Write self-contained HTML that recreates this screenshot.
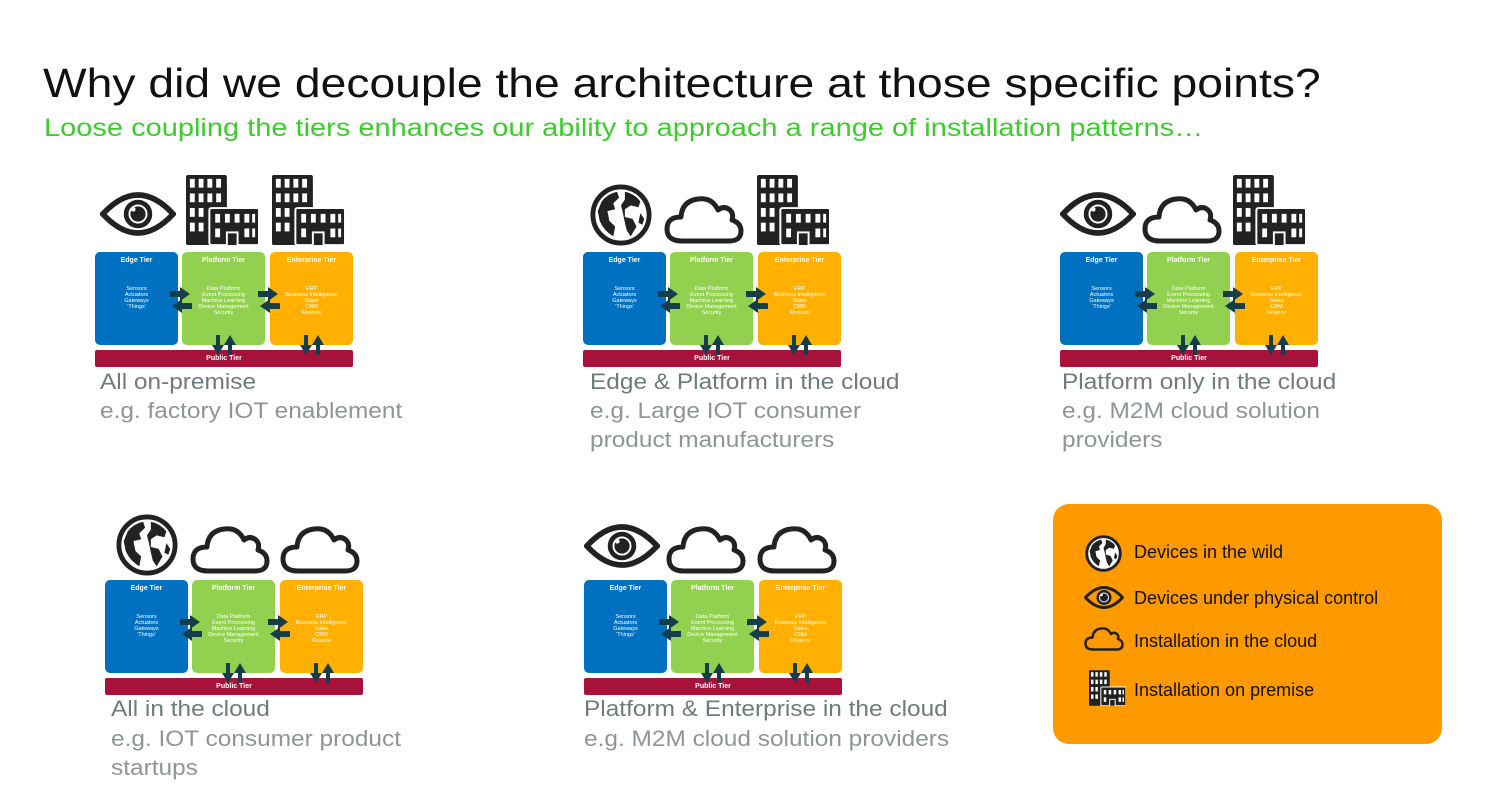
<!DOCTYPE html>
<html><head><meta charset="utf-8"><style>
body{margin:0;width:1509px;height:801px;background:#fff;position:relative;overflow:hidden;font-family:"Liberation Sans",sans-serif}
.t{position:absolute;white-space:nowrap;transform-origin:0 0}
.d{position:absolute;width:258px;height:116px}
.b{position:absolute;top:0;width:83px;height:93px;border-radius:5px;color:#fff;text-align:center}
.b h{display:block;font-weight:bold;font-size:7px;margin-top:5px}
.b p{margin:0;position:absolute;left:0;right:0;top:34px;font-size:5.5px;line-height:6px}
.e{left:0;background:#0070c0}.p{left:87px;background:#92d050}.n{left:175px;background:#ffb000}
.pub{position:absolute;left:0;top:98px;width:258px;height:17px;background:#a8123a;border-radius:2px;color:#fff;font-weight:bold;font-size:7px;text-align:center;line-height:17px}
.ar{position:absolute}
.cap1{font-size:22px;color:#6e7b7b;transform:scaleX(1.11)}
.cap2{font-size:22px;color:#8c9696;line-height:29px;transform:scaleX(1.11)}
.ic{position:absolute}
</style></head><body>
<svg width="0" height="0" style="position:absolute">
<defs>
<symbol id="eye" viewBox="0 0 80 52"><path d="M3 26 Q40 -14 77 26 Q40 66 3 26Z" fill="none" stroke="#222" stroke-width="6"/><circle cx="40" cy="26" r="15" fill="#222"/><circle cx="40" cy="26" r="9" fill="none" stroke="#fff" stroke-width="2"/><circle cx="35" cy="21" r="2.5" fill="#fff"/></symbol>
<symbol id="cloud" viewBox="0 0 80 52"><path d="M18 49 Q3 49 3 37 Q3 25 17 25 Q18 9 34 7 Q48 5 54 18 Q60 13 66 18 Q70 22 68 28 Q77 31 77 39 Q77 49 65 49Z" fill="none" stroke="#222" stroke-width="5" stroke-linejoin="round"/></symbol>
<symbol id="globe" viewBox="0 0 64 64"><circle cx="32" cy="32" r="29" fill="#fff" stroke="#222" stroke-width="5"/><path d="M12 18 Q18 10 28 8 L30 14 L24 20 L26 26 L18 28 L20 38 L26 44 L24 54 Q14 48 10 38 L8 28Z" fill="#222"/><path d="M36 8 Q46 10 52 18 L50 24 L42 22 L36 26 L36 34 L44 36 L48 44 L42 54 L38 48 L36 40 L34 30 L32 22 L36 16Z" fill="#222"/><path d="M52 30 L56 36 L54 42 L50 40Z" fill="#222"/></symbol>
<symbol id="bld" viewBox="0 0 75 72"><rect x="0" y="0" width="42" height="72" rx="2" fill="#222"/><g fill="#fff"><rect x="4" y="4" width="5" height="9"/><rect x="13" y="4" width="5" height="9"/><rect x="22" y="4" width="5" height="9"/><rect x="31" y="4" width="5" height="9"/><rect x="4" y="19" width="5" height="9"/><rect x="13" y="19" width="5" height="9"/><rect x="22" y="19" width="5" height="9"/><rect x="31" y="19" width="5" height="9"/><rect x="4" y="34" width="5" height="9"/><rect x="13" y="34" width="5" height="9"/><rect x="4" y="49" width="5" height="9"/><rect x="13" y="49" width="5" height="9"/></g><rect x="24" y="34" width="51" height="38" rx="2" fill="#222" stroke="#fff" stroke-width="2"/><g fill="#fff"><rect x="30" y="40" width="5" height="9"/><rect x="40" y="40" width="5" height="9"/><rect x="50" y="40" width="5" height="9"/><rect x="60" y="40" width="5" height="9"/><rect x="30" y="55" width="5" height="9"/><rect x="60" y="55" width="5" height="9"/><rect x="68" y="40" width="3" height="9"/><rect x="68" y="55" width="3" height="9"/></g><rect x="41" y="58" width="13" height="14" fill="#fff"/><rect x="43" y="60" width="9" height="12" fill="#222"/></symbol>
<symbol id="diag" viewBox="0 0 258 116">
<g fill="#163d4a">
<path d="M75 39 h10 v-4 l10 7 l-10 7 v-4 h-10z"/><path d="M97 51 h-10 v-4 l-10 7 l10 7 v-4 h10z"/>
<path d="M163 39 h10 v-4 l10 7 l-10 7 v-4 h-10z"/><path d="M185 51 h-10 v-4 l-10 7 l10 7 v-4 h10z"/>
<path d="M121 83 v10 h-4 l6 10 l6 -10 h-4 v-10z"/><path d="M137 103 v-10 h4 l-6 -10 l-6 10 h4 v10z"/>
<path d="M209 83 v10 h-4 l6 10 l6 -10 h-4 v-10z"/><path d="M225 103 v-10 h4 l-6 -10 l-6 10 h4 v10z"/>
</g></symbol>
</defs></svg>

<div class="t" style="left:43px;top:60px;font-size:41px;color:#111;transform:scaleX(1.128)">Why did we decouple the architecture at those specific points?</div>
<div class="t" style="left:44px;top:114px;font-size:25px;color:#3ccc2c;transform:scaleX(1.16)">Loose coupling the tiers enhances our ability to approach a range of installation patterns…</div>

<!-- diagram 1 -->
<svg class="ic" style="left:100px;top:188px" width="76" height="52"><use href="#eye"/></svg>
<svg class="ic" style="left:186px;top:174px" width="73" height="72"><use href="#bld"/></svg>
<svg class="ic" style="left:272px;top:174px" width="73" height="72"><use href="#bld"/></svg>
<div class="d" style="left:95px;top:252px">
<div class="b e"><h>Edge Tier</h><p>Sensors<br>Actuators<br>Gateways<br>'Things'</p></div>
<div class="b p"><h>Platform Tier</h><p>Data Platform<br>Event Processing<br>Machine Learning<br>Device Management<br>Security</p></div>
<div class="b n"><h>Enterprise Tier</h><p>ERP<br>Business Intelligence<br>Sales<br>CRM<br>Finance</p></div>
<div class="pub">Public Tier</div>
<svg class="ar" style="left:0;top:0" width="258" height="116"><use href="#diag"/></svg></div>
<div class="t cap1" style="left:100px;top:369px">All on-premise</div>
<div class="t cap2" style="left:100px;top:396px">e.g. factory IOT enablement</div>

<!-- diagram 2 -->
<svg class="ic" style="left:590px;top:184px" width="62" height="62"><use href="#globe"/></svg>
<svg class="ic" style="left:664px;top:192px" width="80" height="52"><use href="#cloud"/></svg>
<svg class="ic" style="left:757px;top:174px" width="73" height="72"><use href="#bld"/></svg>
<div class="d" style="left:583px;top:252px">
<div class="b e"><h>Edge Tier</h><p>Sensors<br>Actuators<br>Gateways<br>'Things'</p></div>
<div class="b p"><h>Platform Tier</h><p>Data Platform<br>Event Processing<br>Machine Learning<br>Device Management<br>Security</p></div>
<div class="b n"><h>Enterprise Tier</h><p>ERP<br>Business Intelligence<br>Sales<br>CRM<br>Finance</p></div>
<div class="pub">Public Tier</div>
<svg class="ar" style="left:0;top:0" width="258" height="116"><use href="#diag"/></svg></div>
<div class="t cap1" style="left:590px;top:369px">Edge &amp; Platform in the cloud</div>
<div class="t cap2" style="left:590px;top:396px">e.g. Large IOT consumer<br>product manufacturers</div>

<!-- diagram 3 -->
<svg class="ic" style="left:1060px;top:188px" width="76" height="52"><use href="#eye"/></svg>
<svg class="ic" style="left:1142px;top:192px" width="80" height="52"><use href="#cloud"/></svg>
<svg class="ic" style="left:1233px;top:174px" width="73" height="72"><use href="#bld"/></svg>
<div class="d" style="left:1060px;top:252px">
<div class="b e"><h>Edge Tier</h><p>Sensors<br>Actuators<br>Gateways<br>'Things'</p></div>
<div class="b p"><h>Platform Tier</h><p>Data Platform<br>Event Processing<br>Machine Learning<br>Device Management<br>Security</p></div>
<div class="b n"><h>Enterprise Tier</h><p>ERP<br>Business Intelligence<br>Sales<br>CRM<br>Finance</p></div>
<div class="pub">Public Tier</div>
<svg class="ar" style="left:0;top:0" width="258" height="116"><use href="#diag"/></svg></div>
<div class="t cap1" style="left:1062px;top:369px">Platform only in the cloud</div>
<div class="t cap2" style="left:1062px;top:396px">e.g. M2M cloud solution<br>providers</div>

<!-- diagram 4 -->
<svg class="ic" style="left:116px;top:514px" width="62" height="62"><use href="#globe"/></svg>
<svg class="ic" style="left:190px;top:522px" width="80" height="52"><use href="#cloud"/></svg>
<svg class="ic" style="left:280px;top:522px" width="80" height="52"><use href="#cloud"/></svg>
<div class="d" style="left:105px;top:580px">
<div class="b e"><h>Edge Tier</h><p>Sensors<br>Actuators<br>Gateways<br>'Things'</p></div>
<div class="b p"><h>Platform Tier</h><p>Data Platform<br>Event Processing<br>Machine Learning<br>Device Management<br>Security</p></div>
<div class="b n"><h>Enterprise Tier</h><p>ERP<br>Business Intelligence<br>Sales<br>CRM<br>Finance</p></div>
<div class="pub">Public Tier</div>
<svg class="ar" style="left:0;top:0" width="258" height="116"><use href="#diag"/></svg></div>
<div class="t cap1" style="left:111px;top:696px">All in the cloud</div>
<div class="t cap2" style="left:111px;top:724px">e.g. IOT consumer product<br>startups</div>

<!-- diagram 5 -->
<svg class="ic" style="left:584px;top:520px" width="76" height="52"><use href="#eye"/></svg>
<svg class="ic" style="left:666px;top:522px" width="80" height="52"><use href="#cloud"/></svg>
<svg class="ic" style="left:757px;top:522px" width="80" height="52"><use href="#cloud"/></svg>
<div class="d" style="left:584px;top:580px">
<div class="b e"><h>Edge Tier</h><p>Sensors<br>Actuators<br>Gateways<br>'Things'</p></div>
<div class="b p"><h>Platform Tier</h><p>Data Platform<br>Event Processing<br>Machine Learning<br>Device Management<br>Security</p></div>
<div class="b n"><h>Enterprise Tier</h><p>ERP<br>Business Intelligence<br>Sales<br>CRM<br>Finance</p></div>
<div class="pub">Public Tier</div>
<svg class="ar" style="left:0;top:0" width="258" height="116"><use href="#diag"/></svg></div>
<div class="t cap1" style="left:584px;top:696px">Platform &amp; Enterprise in the cloud</div>
<div class="t cap2" style="left:584px;top:724px">e.g. M2M cloud solution providers</div>

<!-- legend -->
<div style="position:absolute;left:1053px;top:504px;width:389px;height:240px;background:#ff9900;border-radius:16px"></div>
<svg class="ic" style="left:1085px;top:535px" width="37" height="37"><use href="#globe"/></svg>
<svg class="ic" style="left:1084px;top:584px" width="40" height="27"><use href="#eye"/></svg>
<svg class="ic" style="left:1084px;top:624px" width="40" height="28"><use href="#cloud"/></svg>
<svg class="ic" style="left:1089px;top:670px" width="37" height="36"><use href="#bld"/></svg>
<div class="t" style="left:1134px;top:542px;font-size:18px;color:#111">Devices in the wild</div>
<div class="t" style="left:1134px;top:588px;font-size:18px;color:#111">Devices under physical control</div>
<div class="t" style="left:1134px;top:631px;font-size:18px;color:#111">Installation in the cloud</div>
<div class="t" style="left:1134px;top:680px;font-size:18px;color:#111">Installation on premise</div>
</body></html>
